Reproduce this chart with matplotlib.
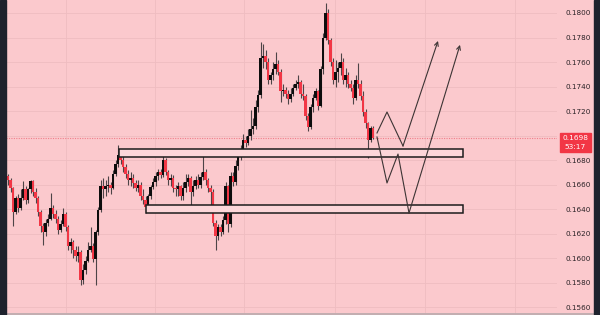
import matplotlib
matplotlib.use("Agg")
import matplotlib.pyplot as plt
import numpy as np
from matplotlib.patches import Rectangle
from matplotlib.lines import Line2D

# candle data (price values), open = previous close
first_open = 0.1667
closes = [0.1664, 0.1657, 0.1638, 0.1649, 0.1641, 0.1649, 0.1656, 0.1647, 0.1656, 0.1663,
          0.1654, 0.1649, 0.1638, 0.1626, 0.1621, 0.1629, 0.1632, 0.1641, 0.1636, 0.1632,
          0.1623, 0.1628, 0.1636, 0.1625, 0.1610, 0.1613, 0.1607, 0.1602, 0.1605, 0.1582,
          0.1590, 0.1598, 0.1607, 0.1610, 0.1599, 0.1621, 0.1639, 0.1659, 0.1656, 0.1659,
          0.1660, 0.1657, 0.1669, 0.1677, 0.1684, 0.1680, 0.1674, 0.1669, 0.1664, 0.1665,
          0.1661, 0.1657, 0.1660, 0.1651, 0.1647, 0.1642, 0.1651, 0.1658, 0.1662, 0.1667,
          0.1670, 0.1668, 0.1680, 0.1670, 0.1664, 0.1665, 0.1657, 0.1656, 0.1659, 0.1651,
          0.1657, 0.1662, 0.1665, 0.1654, 0.1659, 0.1664, 0.1660, 0.1666, 0.1670, 0.1664,
          0.1657, 0.1654, 0.1629, 0.1618, 0.1625, 0.1621, 0.1631, 0.1659, 0.1628, 0.1667,
          0.1662, 0.1675, 0.1683, 0.1688, 0.1696, 0.1694, 0.1700, 0.1705, 0.1708, 0.1723,
          0.1733, 0.1763, 0.1765, 0.1760, 0.1745, 0.1749, 0.1754, 0.1758, 0.1752, 0.1736,
          0.1737, 0.1734, 0.1730, 0.1734, 0.1739, 0.1742, 0.1744, 0.1734, 0.1732, 0.1716,
          0.1707, 0.1723, 0.1731, 0.1736, 0.1724, 0.1754, 0.1780, 0.1800, 0.1778, 0.1760,
          0.1745, 0.1752, 0.1755, 0.1760, 0.1745, 0.1749, 0.1742, 0.1739, 0.1731, 0.1745,
          0.1742, 0.1732, 0.1719, 0.1710, 0.1696, 0.1706, 0.1698]
highs = [0.1669, 0.1665, 0.1658, 0.1651, 0.1652, 0.1656, 0.1663, 0.1659, 0.1657, 0.1664,
         0.1664, 0.1657, 0.1651, 0.1639, 0.1629, 0.1632, 0.1636, 0.1653, 0.1643, 0.1639,
         0.1634, 0.1631, 0.1641, 0.1638, 0.1627, 0.1616, 0.1615, 0.1610, 0.1610, 0.1607,
         0.1595, 0.1602, 0.1613, 0.1625, 0.1612, 0.1623, 0.1642, 0.1664, 0.1665, 0.1664,
         0.1667, 0.1662, 0.1672, 0.1680, 0.1692, 0.1688, 0.1683, 0.1677, 0.1672, 0.1670,
         0.1669, 0.1664, 0.1664, 0.1662, 0.1656, 0.1651, 0.1652, 0.1660, 0.1665, 0.1670,
         0.1673, 0.1673, 0.1688, 0.1682, 0.1672, 0.1669, 0.1668, 0.1660, 0.1662, 0.1660,
         0.1662, 0.1669, 0.1669, 0.1667, 0.1664, 0.1667, 0.1669, 0.1670, 0.1684, 0.1673,
         0.1665, 0.1660, 0.1656, 0.1631, 0.1628, 0.1628, 0.1634, 0.1662, 0.1660, 0.1670,
         0.1670, 0.1680, 0.1687, 0.1692, 0.1701, 0.1700, 0.1705, 0.1721, 0.1714, 0.1729,
         0.1737, 0.1776, 0.1775, 0.1770, 0.1763, 0.1752, 0.1760, 0.1768, 0.1762, 0.1754,
         0.1742, 0.1740, 0.1737, 0.1739, 0.1742, 0.1745, 0.1749, 0.1745, 0.1742, 0.1734,
         0.1718, 0.1726, 0.1734, 0.1739, 0.1737, 0.1757, 0.1784, 0.1808, 0.1803, 0.1780,
         0.1763, 0.1762, 0.1760, 0.1767, 0.1763, 0.1755, 0.1752, 0.1745, 0.1742, 0.1749,
         0.1759, 0.1745, 0.1736, 0.1722, 0.1711, 0.1708, 0.1708]
lows = [0.1660, 0.1654, 0.1626, 0.1636, 0.1638, 0.1639, 0.1647, 0.1644, 0.1645, 0.1653,
        0.1651, 0.1645, 0.1634, 0.1621, 0.1611, 0.1618, 0.1626, 0.1631, 0.1633, 0.1629,
        0.1620, 0.1621, 0.1626, 0.1622, 0.1607, 0.1604, 0.1600, 0.1598, 0.1597, 0.1578,
        0.1579, 0.1587, 0.1597, 0.1605, 0.1597, 0.1578, 0.1619, 0.1638, 0.1649, 0.1651,
        0.1654, 0.1652, 0.1656, 0.1667, 0.1674, 0.1677, 0.1670, 0.1665, 0.1660, 0.1659,
        0.1657, 0.1655, 0.1654, 0.1647, 0.1644, 0.1637, 0.1639, 0.1648, 0.1656, 0.1659,
        0.1664, 0.1665, 0.1666, 0.1668, 0.1660, 0.1659, 0.1654, 0.1651, 0.1651, 0.1647,
        0.1647, 0.1654, 0.1659, 0.1639, 0.1651, 0.1656, 0.1657, 0.1657, 0.1664, 0.1660,
        0.1654, 0.1643, 0.1626, 0.1607, 0.1615, 0.1618, 0.1620, 0.1628, 0.1621, 0.1625,
        0.1659, 0.1660, 0.1672, 0.1680, 0.1685, 0.1691, 0.1692, 0.1696, 0.1701, 0.1705,
        0.1719, 0.1731, 0.1755, 0.1754, 0.1742, 0.1742, 0.1745, 0.1750, 0.1749, 0.1727,
        0.1732, 0.1731, 0.1726, 0.1727, 0.1732, 0.1737, 0.1739, 0.1731, 0.1729, 0.1713,
        0.1704, 0.1705, 0.1719, 0.1729, 0.1721, 0.1723, 0.1750, 0.1778, 0.1775, 0.1757,
        0.1742, 0.1740, 0.1744, 0.1749, 0.1742, 0.1740, 0.1739, 0.1736, 0.1726, 0.1729,
        0.1739, 0.1729, 0.1716, 0.1706, 0.1682, 0.1695, 0.1697]

# zones drawn on the chart (bar index range, price range)
zone_upper = (44.4, 182.0, 0.16825, 0.16890)
zone_lower = (55.2, 182.0, 0.16370, 0.16430)

# projected paths (bar index, price)
path1_x = [147.6, 151.6, 158.0, 172.0]
path1_y = [0.17021, 0.17192, 0.16915, 0.17772]
path2_x = [147.6, 151.6, 156.0, 160.4, 180.8]
path2_y = [0.16988, 0.16613, 0.16849, 0.16368, 0.17740]

price_ticks = [0.156, 0.158, 0.160, 0.162, 0.164, 0.166, 0.168, 0.170,
               0.172, 0.174, 0.176, 0.178, 0.180]
last_price = "0.1698"
countdown = "53:17"

bg = "#fbc9cd"
grid_c = "#efbcc1"
up_c = "#0d0d0d"
down_c = "#f23645"

fig = plt.figure(figsize=(6, 3.15), dpi=100)
fig.patch.set_facecolor(bg)
ax = fig.add_axes([6 / 600, 2 / 315, 551 / 600, 313 / 315])
ax.set_facecolor(bg)

closes = np.array(closes)
opens = np.concatenate([[first_open], closes[:-1]])
highs = np.array(highs)
lows = np.array(lows)
idx = np.arange(len(closes))
up = closes >= opens

ax.vlines(idx, lows, highs, color="#4d4447", lw=0.8, zorder=2)
body_lo = np.minimum(opens, closes)
body_h = np.maximum(np.abs(closes - opens), 0.00004)
ax.bar(idx[up], body_h[up], bottom=body_lo[up], width=0.9, color=up_c, zorder=3)
ax.bar(idx[~up], body_h[~up], bottom=body_lo[~up], width=0.9, color=down_c, zorder=3)

# last price dotted line
ax.axhline(float(last_price), color="#ef7f8a", lw=0.8, ls=(0, (1, 1.2)), zorder=1)

for x0, x1, y0, y1 in (zone_upper, zone_lower):
    ax.add_patch(Rectangle((x0, y0), x1 - x0, y1 - y0, facecolor="#fcd6d9",
                           edgecolor="#1c1c1c", lw=1.1, zorder=4))

for px, py in ((path1_x, path1_y), (path2_x, path2_y)):
    ax.plot(px[:-1], py[:-1], color="#3c3434", lw=0.8, zorder=5)
    ax.annotate("", xy=(px[-1], py[-1]), xytext=(px[-2], py[-2]),
                arrowprops=dict(arrowstyle="->", color="#3c3434", lw=0.8,
                                mutation_scale=7, shrinkA=0, shrinkB=0), zorder=5)

ax.set_xlim(-0.8, 219.6)
ax.set_ylim(0.15552, 0.18106)
ax.set_xticks([23.2, 58.8, 94.4, 130.8, 166.8, 202.8])
ax.set_yticks(price_ticks)
ax.yaxis.tick_right()
# the 0.1700 label sits under the last-price tag
ax.set_yticklabels(["" if abs(t - 0.170) < 1e-9 else f"{t:.4f}" for t in price_ticks])
ax.tick_params(axis="y", length=0, pad=5.8, labelsize=5.2, labelcolor="#2a2226")
ax.tick_params(axis="x", length=0, labelbottom=False)
ax.grid(True, color=grid_c, lw=0.6)
ax.set_axisbelow(True)
for s in ax.spines.values():
    s.set_visible(False)

# side strips and bottom border
fig.patches.append(Rectangle((0, 0), 6 / 600, 1, transform=fig.transFigure,
                             color="#1e222d", zorder=10))
fig.patches.append(Rectangle((594 / 600, 0), 6 / 600, 1, transform=fig.transFigure,
                             color="#1e222d", zorder=10))
fig.lines.append(Line2D([6 / 600, 594 / 600], [1.5 / 315, 1.5 / 315],
                        transform=fig.transFigure, color="#b8a9ac", lw=1.2))

# last price label
fig.patches.append(Rectangle((560 / 600, (315 - 152) / 315), 31 / 600, 19 / 315,
                             transform=fig.transFigure, color=down_c, zorder=10))
fig.text(575.5 / 600, (315 - 138.5) / 315, last_price, color="white", fontsize=5.3,
         ha="center", va="center", zorder=11)
fig.text(575.5 / 600, (315 - 147) / 315, countdown, color="white", fontsize=5.3,
         ha="center", va="center", zorder=11)

fig.savefig("out.png", dpi=100, facecolor=bg)
